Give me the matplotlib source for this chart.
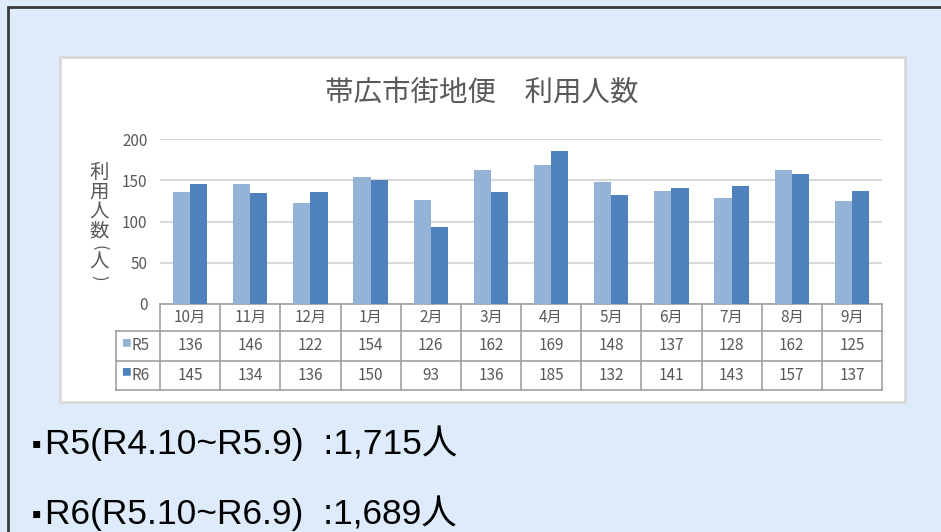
import matplotlib.pyplot as plt
import matplotlib.transforms as mtransforms
from matplotlib.patches import Rectangle
import numpy as np

plt.rcParams['font.family'] = ['Noto Sans CJK JP', 'DejaVu Sans']

# data
months = ['10月', '11月', '12月', '1月', '2月', '3月', '4月', '5月', '6月', '7月', '8月', '9月']
r5 = [136, 146, 122, 154, 126, 162, 169, 148, 137, 128, 162, 125]
r6 = [145, 134, 136, 150, 93, 136, 185, 132, 141, 143, 157, 137]
series_names = ['R5', 'R6']
totals = ['R5(R4.10~R5.9)  :1,715人', 'R6(R5.10~R6.9)  :1,689人']
title = '帯広市街地便　利用人数'
ylabel_chars = ['利', '用', '人', '数', '(', '人', ')']
ylabel_y = [172, 192, 212, 231, 248, 262, 278]  # pixel rows of the stacked label

c5 = '#95B3D7'
c6 = '#4F81BD'
txt = '#595959'
W, H = 941, 532

fig = plt.figure(figsize=(W / 100, H / 100), dpi=100, facecolor='#DDEBFB')

# outer dark frame (top/left visible)
fig.patches.append(Rectangle((8 / W, -0.1), 1.2, (H - 7) / H + 0.1, transform=fig.transFigure,
                             facecolor='none', edgecolor='#3A3A3A', lw=2, zorder=-2))
# white chart box
fig.patches.append(Rectangle((60 / W, (H - 402) / H), 845 / W, 345 / H, transform=fig.transFigure,
                             facecolor='white', edgecolor='#D9D9D9', lw=2, zorder=-1))

ax = fig.add_axes([160 / W, (H - 304) / H, 722 / W, 165 / H])
ax.set_zorder(1)
ax.set_facecolor('none')
x = np.arange(len(months))
bw = 0.285
ax.bar(x - bw / 2, r5, bw, color=c5, zorder=3)
ax.bar(x + bw / 2, r6, bw, color=c6, zorder=3)
ax.set_xlim(-0.5, len(months) - 0.5)
ax.set_ylim(0, 200)
ax.set_yticks([0, 50, 100, 150, 200])
ax.yaxis.grid(True, color='#D9D9D9', lw=1.5, zorder=0)
ax.tick_params(axis='y', length=0, labelsize=11, labelcolor=txt, pad=9)
ax.set_xticks([])
for s in ax.spines.values():
    s.set_visible(False)

# data table below the axes
tr = mtransforms.blended_transform_factory(ax.transData, ax.transAxes)
px = 1 / 165.0
row_y = [0, -27 * px, -57 * px, -86 * px]
lc = '#A0A0A0'
left = -0.5 - 44 / 722 * len(months)
for i in range(len(months) + 1):
    ax.plot([i - 0.5, i - 0.5], [row_y[0], row_y[3]], color=lc, lw=1.2, transform=tr, clip_on=False)
ax.plot([left, left], [row_y[1], row_y[3]], color=lc, lw=1.2, transform=tr, clip_on=False)
ax.plot([-0.5, len(months) - 0.5], [row_y[0]] * 2, color=lc, lw=1.2, transform=tr, clip_on=False)
for k in (1, 2, 3):
    ax.plot([left, len(months) - 0.5], [row_y[k]] * 2, color=lc, lw=1.2, transform=tr, clip_on=False)

for i, m in enumerate(months):
    ax.text(i, (row_y[0] + row_y[1]) / 2, m, transform=tr, ha='center', va='center', fontsize=11, color=txt)
    ax.text(i, (row_y[1] + row_y[2]) / 2, str(r5[i]), transform=tr, ha='center', va='center', fontsize=11, color=txt)
    ax.text(i, (row_y[2] + row_y[3]) / 2, str(r6[i]), transform=tr, ha='center', va='center', fontsize=11, color=txt)

for k, (name, col) in enumerate(zip(series_names, [c5, c6])):
    yc = (row_y[k + 1] + row_y[k + 2]) / 2
    ax.text(left + 0.08, yc + 3 * px, '■', transform=tr, ha='left', va='center', fontsize=7, color=col)
    ax.text(left + 0.26, yc, name, transform=tr, ha='left', va='center', fontsize=11, color=txt)

fig.text(482 / W, (H - 93) / H, title, ha='center', va='center', fontsize=20.5, color=txt)

for ch, yy in zip(ylabel_chars, ylabel_y):
    if ch in '()':
        fig.text(99 / W, (H - yy) / H, ch, ha='center', va='center', fontsize=12, color=txt, rotation=-90)
    else:
        fig.text(99 / W, (H - yy) / H, ch, ha='center', va='center', fontsize=14, color=txt)

for k, t in enumerate(totals):
    yy = (H - 443 - k * 70) / H
    fig.text(32 / W, yy, '▪', ha='left', va='center', fontsize=10, color='black',
             family=['DejaVu Sans'])
    fig.text(45 / W, yy, t, ha='left', va='center', fontsize=25.5, color='black',
             family=['Liberation Sans', 'Noto Sans CJK JP'])

fig.savefig('out.png', dpi=100, facecolor=fig.get_facecolor())
